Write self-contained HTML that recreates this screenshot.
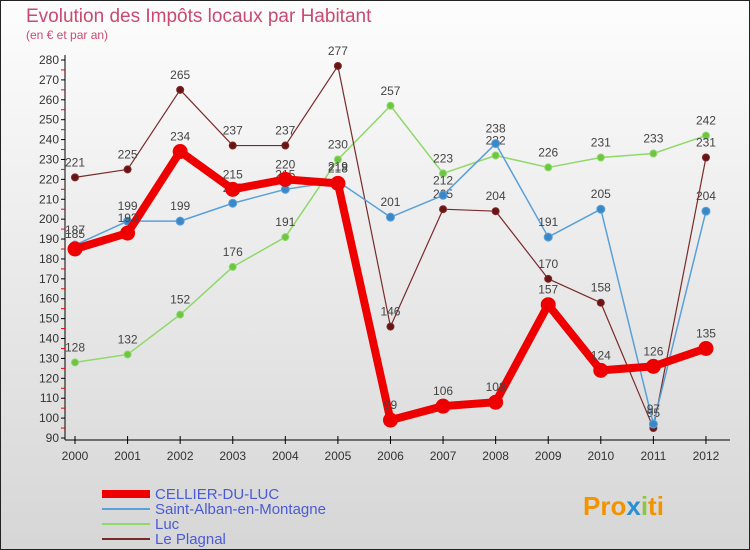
<!DOCTYPE html>
<html><head><meta charset="utf-8"><style>
body{margin:0;}
#c{width:750px;height:550px;position:relative;overflow:hidden;font-family:"Liberation Sans",sans-serif;}
</style></head><body>
<div id="c">
<svg id="s" width="750" height="550" xmlns="http://www.w3.org/2000/svg">
<defs><linearGradient id="bg" x1="0" y1="0" x2="0" y2="1"><stop offset="0" stop-color="#fdfdfd"/><stop offset="1" stop-color="#d6d6d6"/></linearGradient></defs>
<rect x="0.5" y="0.5" width="749" height="549" fill="url(#bg)" stroke="#222"/>
<text x="26" y="22" font-size="19" fill="#c94a70">Evolution des Impôts locaux par Habitant</text>
<text x="26" y="39" font-size="12" fill="#c94a70">(en € et par an)</text>
<g id="axes"></g><g id="series"></g><g id="legend"></g>
<text x="583" y="515" font-size="26" font-weight="bold" fill="#f29400">Pro<tspan fill="#2a8fd0">x</tspan><tspan fill="#8cc63f">i</tspan>ti</text>
</svg></div>
<script>
const years=[2000,2001,2002,2003,2004,2005,2006,2007,2008,2009,2010,2011,2012];
const cellier=[185,193,234,215,220,218,99,106,108,157,124,126,135];
const alban=[187,199,199,208,215,219,201,212,238,191,205,97,204];
const luc=[128,132,152,176,191,230,257,223,232,226,231,233,242];
const plagnal=[221,225,265,237,237,277,146,205,204,170,158,95,231];
const yTicks=[90,100,110,120,130,140,150,160,170,180,190,200,210,220,230,240,250,260,270,280];
const NS="http://www.w3.org/2000/svg";
const x=i=>75+i*52.58;
const y=v=>438-(v-90)*(378/190);
function mk(tag,attrs,parent){const e=document.createElementNS(NS,tag);for(const k in attrs)e.setAttribute(k,attrs[k]);parent.appendChild(e);return e;}
const ax=document.getElementById('axes');
let a=mk('line',{x1:65,y1:55,x2:65,y2:440,stroke:'#000'},ax);


a=mk('line',{x1:65,y1:440,x2:730,y2:440,stroke:'#000'},ax);


yTicks.forEach(v=>{
 mk('line',{x1:61,y1:y(v),x2:65,y2:y(v),stroke:'#000'},ax);
 if(v<280)mk('line',{x1:61,y1:y(v+5),x2:65,y2:y(v+5),stroke:'#e00'},ax);
 const t=mk('text',{x:59,y:y(v)+4,'font-size':12,fill:'#333','text-anchor':'end'},ax);t.textContent=v;
 
 
});
years.forEach((yr,i)=>{
 mk('line',{x1:x(i),y1:436,x2:x(i),y2:444,stroke:'#000'},ax);
 const t=mk('text',{x:x(i),y:460,'font-size':12,fill:'#333','text-anchor':'middle'},ax);t.textContent=yr;
 
 
});
const sg=document.getElementById('series');
function draw(data,color,w,r,name,dot){
 const g=mk('g',{},sg);
 
 
 mk('polyline',{points:data.map((v,i)=>x(i)+','+y(v)).join(' '),fill:'none',stroke:color,'stroke-width':w,'stroke-linejoin':'round'},g);
 data.forEach((v,i)=>{
  const c=mk('circle',{cx:x(i),cy:y(v),r:r,fill:dot,stroke:color,'stroke-width':1},g);
  
  
  const t=mk('text',{x:x(i),y:y(v)-11,'font-size':12,fill:'#444','text-anchor':'middle'},g);t.textContent=v;
  
  
 });
}
draw(luc,'#8fd86a',1.5,3.5,'series-luc','#6cc640');
draw(plagnal,'#7a2a2a',1.2,3.5,'series-le-plagnal','#6b1414');
draw(alban,'#5aa0d8',1.5,4,'series-saint-alban','#3a88c8');
draw(cellier,'#ee0000',8,7,'series-cellier-du-luc','#ee0000');
const lg=document.getElementById('legend');
[['CELLIER-DU-LUC','#ee0000',8],['Saint-Alban-en-Montagne','#5aa0d8',2],['Luc','#8fd86a',2],['Le Plagnal','#7a2a2a',2]].forEach((d,i)=>{
 const g=mk('g',{},lg);
 
 
 const yy=494+i*15;
 mk('line',{x1:102,y1:yy,x2:150,y2:yy,stroke:d[1],'stroke-width':d[2]},g);
 const t=mk('text',{x:155,y:yy+5,'font-size':15,fill:'#4a5ad8'},g);t.textContent=d[0];
});
</script>
</body></html>
